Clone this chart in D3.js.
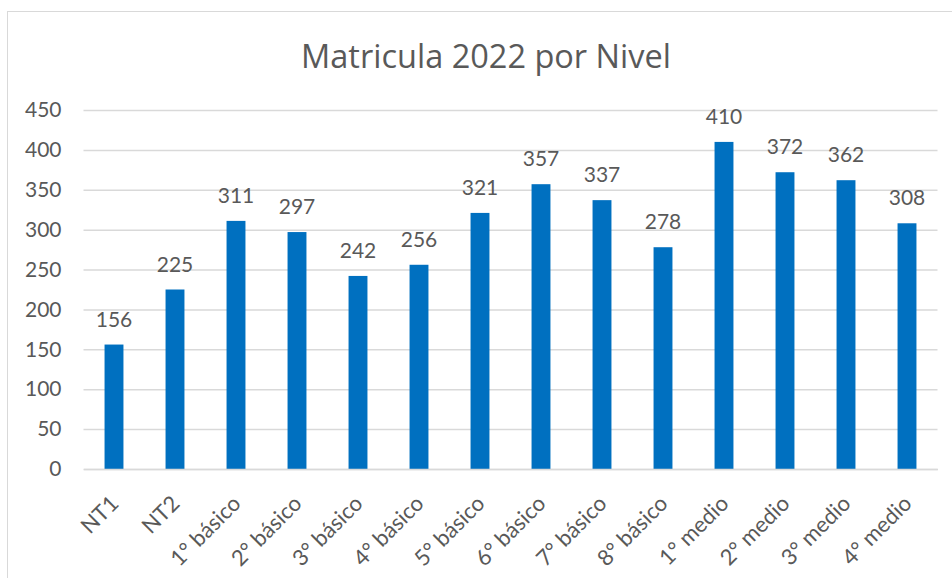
<!DOCTYPE html>
<html><head><meta charset="utf-8">
<script src="https://cdn.jsdelivr.net/npm/d3@7"></script>
<style>body{margin:0;background:#fff}svg{display:block}text{font-family:Lato,"Open Sans",sans-serif;fill:#595959}</style>
</head><body><svg id="c" width="952" height="578"></svg>
<script>
const categories = ["NT1","NT2","1° básico","2° básico","3° básico","4° básico","5° básico","6° básico","7° básico","8° básico","1° medio","2° medio","3° medio","4° medio"];
const values = [156,225,311,297,242,256,321,357,337,278,410,372,362,308];
const yTicks = [0,50,100,150,200,250,300,350,400,450];
const title = "Matricula 2022 por Nivel";

const svg = d3.select("#c");
svg.append("rect").attr("x",7.5).attr("y",11.5).attr("width",980).attr("height",600)
  .attr("fill","#fff").attr("stroke","#d9d9d9");

const x = d3.scaleBand().domain(categories).range([83.5,937.5]).paddingInner(0.69).paddingOuter(0.345);
const y = d3.scaleLinear().domain([0,450]).range([469,110]);

svg.append("text").attr("x",486).attr("y",68).attr("text-anchor","middle")
  .style("font-family","'Open Sans',sans-serif").style("font-size","32.5px").text(title);

const gy = svg.append("g").attr("transform","translate(83.5,0)")
  .call(d3.axisLeft(y).tickValues(yTicks).tickSize(-854).tickPadding(22));
gy.select(".domain").remove();
gy.selectAll(".tick line").attr("stroke","#d9d9d9").attr("stroke-width",1.5);
gy.selectAll(".tick text").style("font-size","21px").style("font-family","Lato,sans-serif").attr("fill","#595959");

svg.selectAll("rect.bar").data(values).join("rect").attr("class","bar")
  .attr("x",(d,i)=>x(categories[i])).attr("width",x.bandwidth())
  .attr("y",d=>y(d)).attr("height",d=>y(0)-y(d)).attr("fill","#0070C0");

svg.selectAll("text.lbl").data(values).join("text").attr("class","lbl")
  .attr("x",(d,i)=>x(categories[i])+x.bandwidth()/2).attr("y",d=>y(d)-18)
  .attr("text-anchor","middle").style("font-size","21px").text(d=>d);

const gx = svg.append("g").attr("transform","translate(0,469)")
  .call(d3.axisBottom(x).tickSize(0).tickPadding(0));
gx.select(".domain").attr("stroke","#d9d9d9").attr("stroke-width",1.5);
gx.selectAll(".tick text").style("font-size","22px").style("font-family","Lato,sans-serif").attr("fill","#595959")
  .attr("text-anchor","end").attr("dy",0).attr("y",0)
  .attr("transform","translate(6,36) rotate(-45)");
</script></body></html>
